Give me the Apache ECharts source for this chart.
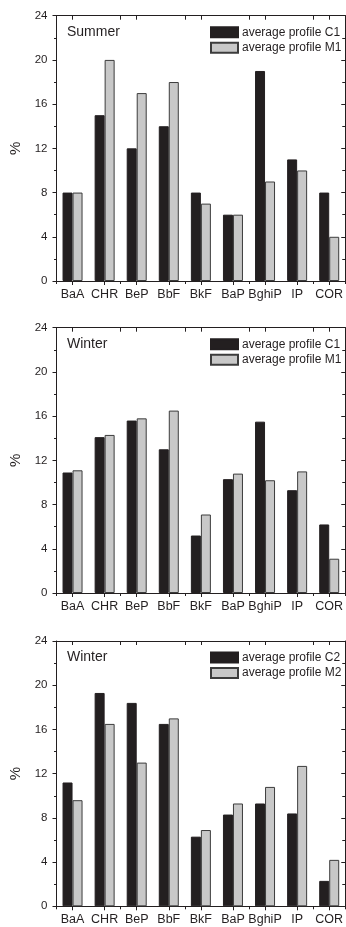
<!DOCTYPE html>
<html>
<head>
<meta charset="utf-8">
<script src="https://cdn.jsdelivr.net/npm/echarts@6/dist/echarts.min.js"></script>
<style>
html,body{margin:0;padding:0;background:#fff;}
#chart{width:346px;height:927px;}
</style>
</head>
<body>
<div id="chart"></div>
<script>
var categories = ['BaA','CHR','BeP','BbF','BkF','BaP','BghiP','IP','COR'];
var yTicks = [0,4,8,12,16,20,24];
var panelTitles = ['Summer','Winter','Winter'];
var seriesNamesC = ['average profile C1','average profile C1','average profile C2'];
var seriesNamesM = ['average profile M1','average profile M1','average profile M2'];
var summerC1 = [8,15,12,14,8,6,19,11,8];
var summerM1 = [8,20,17,18,7,6,9,10,4];
var winterC1 = [10.9,14.1,15.6,13,5.2,10.3,15.5,9.3,6.2];
var winterM1 = [11.1,14.3,15.8,16.5,7.1,10.8,10.2,11,3.1];
var winterC2 = [11.2,19.3,18.4,16.5,6.3,8.3,9.3,8.4,2.3];
var winterM2 = [9.6,16.5,13,17,6.9,9.3,10.8,12.7,4.2];

var dataC = [summerC1, winterC1, winterC2];
var dataM = [summerM1, winterM1, winterM2];

var FONT = '"Liberation Sans", Arial, sans-serif';
var INK = '#231f20';
var tops = [15.7, 327.7, 641];
var H = 265.3;
var yMin = yTicks[0], yMax = yTicks[yTicks.length-1], yInt = yTicks[1]-yTicks[0];

var option = {
  animation: false,
  backgroundColor: '#fff',
  grid: [], xAxis: [], yAxis: [], series: [], legend: [], graphic: []
};

for (var i = 0; i < 3; i++) {
  option.grid.push({left: 56.5, right: -1, top: tops[i], height: H, containLabel: false});
  var lineStyle = {color: INK, width: 1};
  option.xAxis.push({
    type: 'category', gridIndex: i, position: 'bottom', data: categories,
    axisLine: {show: true, lineStyle: lineStyle},
    axisTick: {show: true, alignWithLabel: true, length: 4, lineStyle: lineStyle},
    axisLabel: {show: true, interval: 0, margin: 7, fontSize: 12.5, fontFamily: FONT, color: INK},
    splitLine: {show: false}
  });
  option.xAxis.push({
    type: 'category', gridIndex: i, position: 'bottom', data: categories,
    axisLine: {show: false},
    axisTick: {show: true, alignWithLabel: false, length: 3, lineStyle: lineStyle},
    axisLabel: {show: false}, splitLine: {show: false}
  });
  option.xAxis.push({
    type: 'category', gridIndex: i, position: 'top', data: categories,
    axisLine: {show: true, lineStyle: lineStyle},
    axisTick: {show: true, inside: true, alignWithLabel: true, length: 4, lineStyle: lineStyle},
    axisLabel: {show: false}, splitLine: {show: false}
  });
  option.xAxis.push({
    type: 'category', gridIndex: i, position: 'top', data: categories,
    axisLine: {show: false},
    axisTick: {show: true, inside: true, alignWithLabel: false, length: 4, lineStyle: lineStyle},
    axisLabel: {show: false}, splitLine: {show: false}
  });
  option.yAxis.push({
    type: 'value', gridIndex: i, position: 'left', min: yMin, max: yMax, interval: yInt,
    name: '%', nameLocation: 'middle', nameGap: 32,
    nameTextStyle: {fontSize: 15, fontFamily: FONT, color: INK},
    axisLine: {show: true, lineStyle: lineStyle},
    axisTick: {show: true, length: 4, lineStyle: lineStyle},
    minorTick: {show: true, splitNumber: 2, length: 2.5, lineStyle: lineStyle},
    axisLabel: {show: true, margin: 9, fontSize: 11.5, fontFamily: FONT, color: INK},
    splitLine: {show: false}, minorSplitLine: {show: false}
  });
  option.yAxis.push({
    type: 'value', gridIndex: i, position: 'right', min: yMin, max: yMax, interval: yInt,
    axisLine: {show: true, lineStyle: lineStyle},
    axisTick: {show: true, inside: true, length: 4, lineStyle: lineStyle},
    minorTick: {show: true, splitNumber: 2, length: 3, lineStyle: lineStyle},
    axisLabel: {show: false},
    splitLine: {show: false}, minorSplitLine: {show: false}
  });
  option.series.push({
    type: 'bar', name: seriesNamesC[i], xAxisIndex: i*4, yAxisIndex: i*2,
    data: dataC[i], barWidth: 10, barGap: '0%',
    itemStyle: {color: INK, borderColor: INK, borderWidth: 1}
  });
  option.series.push({
    type: 'bar', name: seriesNamesM[i], xAxisIndex: i*4, yAxisIndex: i*2,
    data: dataM[i], barWidth: 10, barGap: '0%',
    itemStyle: {color: '#c8c8c8', borderColor: '#3c3c3c', borderWidth: 1}
  });
  option.legend.push({
    data: [seriesNamesC[i], seriesNamesM[i]],
    orient: 'vertical', left: 210, top: tops[i] + 10.5,
    padding: 0, itemWidth: 27, itemHeight: 10, itemGap: 3.5,
    icon: 'rect', selectedMode: false,
    textStyle: {fontSize: 12, fontFamily: FONT, color: INK, lineHeight: 12, padding: [0,0,0,-1]}
  });
  option.graphic.push({
    type: 'text', left: 67, top: tops[i] + 9,
    style: {text: panelTitles[i], fontSize: 14, fontFamily: FONT, fill: INK}
  });
}

var chart = echarts.init(document.getElementById('chart'), null, {renderer: 'canvas'});
chart.setOption(option);
</script>
</body>
</html>
